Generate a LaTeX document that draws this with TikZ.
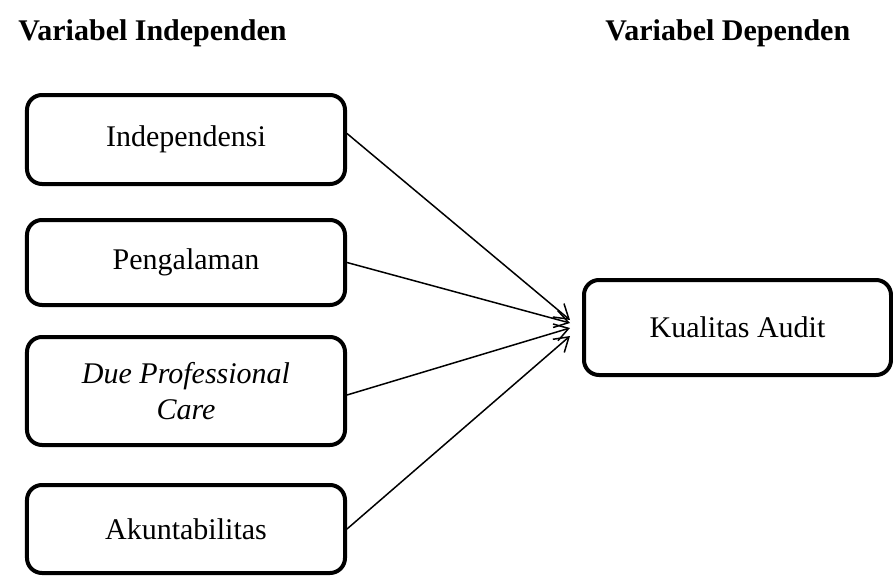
\documentclass[tikz,border=0pt]{standalone}
\usepackage{fontspec}
\setmainfont{Liberation Serif}
\usetikzlibrary{arrows.meta, positioning, calc}
\tikzset{
  varbox/.style={
    rectangle, rounded corners=6pt, draw=black, line width=1.6pt,
    minimum width=127.2pt, minimum height=35.2pt,
    text centered, font=\fontsize{12}{14}\selectfont
  },
  heading/.style={
    anchor=base west, inner sep=0pt, font=\fontsize{12}{14}\selectfont\bfseries
  },
  arrow/.style={line width=0.6pt, -{Straight Barb[length=5.5pt,width=7pt]}},
}
\begin{document}
\begin{tikzpicture}[node distance=12.8pt]
  \useasboundingbox (0,0) rectangle (357.2pt,-230.4pt);

  % judul kolom
  \node (hind) [heading] at (7.2pt,-16pt)  {Variabel Independen};
  \node (hdep) [heading] at (242pt,-16pt)  {Variabel Dependen};

  % variabel independen
  \node (ind)  [varbox, minimum height=35.6pt] at (74.4pt,-55.8pt) {Independensi};
  \node (peng) [varbox, minimum height=34pt, below=12.8pt of ind]  {Pengalaman};
  \node (due)  [varbox, minimum height=43.2pt, below=11.2pt of peng, align=center]
               {\itshape Due Professional\\[0.5pt] \itshape Care};
  \node (akun) [varbox, minimum height=35.2pt, below=14.4pt of due] {Akuntabilitas};

  % variabel dependen
  \node (kua)  [varbox, minimum width=122.8pt, minimum height=38pt] at (295pt,-131pt) {Kualitas Audit};

  \draw [arrow] ([yshift=2.4pt]ind.east)   -- ([xshift=-4.8pt,yshift=3pt]kua.west);
  \draw [arrow] (peng.east)                -- ([xshift=-4.8pt,yshift=1.8pt]kua.west);
  \draw [arrow] ([yshift=-1.6pt]due.east)  -- ([xshift=-4.8pt,yshift=-0.2pt]kua.west);
  \draw [arrow] (akun.east)                -- ([xshift=-4.8pt,yshift=-3.4pt]kua.west);
\end{tikzpicture}
\end{document}
